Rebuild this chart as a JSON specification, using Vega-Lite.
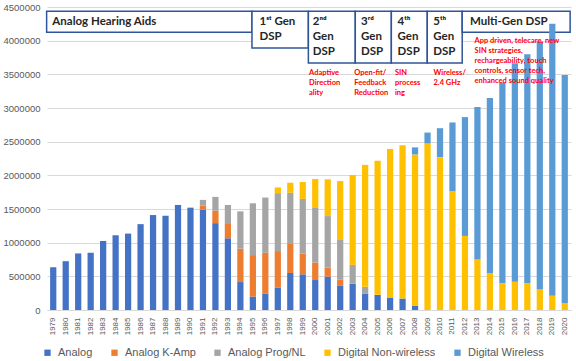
{
  "$schema": "https://vega.github.io/schema/vega-lite/v6.json",
  "width": 524,
  "height": 303,
  "autosize": {"type": "none"},
  "padding": {"left": 47, "top": 7, "right": 5, "bottom": 51},
  "background": "white",
  "config": {
    "view": {"stroke": null},
    "font": "Liberation Sans",
    "axisX": {"labelAngle": -90, "labelFontSize": 8, "labelColor": "#595959", "ticks": false, "domainColor": "#d9d9d9", "labelPadding": 7, "grid": false, "title": null, "labelOverlap": false},
    "axisY": {"domain": false, "ticks": false, "gridColor": "#d9d9d9", "labelColor": "#595959", "labelFontSize": 9.5, "labelPadding": 7, "title": null, "labelOverlap": false}
  },
  "datasets": {
    "sales": [
      {"year": 1979, "series": "Analog", "value": 635000},
      {"year": 1980, "series": "Analog", "value": 725000},
      {"year": 1981, "series": "Analog", "value": 840000},
      {"year": 1982, "series": "Analog", "value": 850000},
      {"year": 1983, "series": "Analog", "value": 1025000},
      {"year": 1984, "series": "Analog", "value": 1110000},
      {"year": 1985, "series": "Analog", "value": 1135000},
      {"year": 1986, "series": "Analog", "value": 1275000},
      {"year": 1987, "series": "Analog", "value": 1410000},
      {"year": 1988, "series": "Analog", "value": 1400000},
      {"year": 1989, "series": "Analog", "value": 1560000},
      {"year": 1990, "series": "Analog", "value": 1520000},
      {"year": 1991, "series": "Analog", "value": 1490000},
      {"year": 1991, "series": "Analog K-Amp", "value": 60000},
      {"year": 1991, "series": "Analog Prog/NL", "value": 85000},
      {"year": 1992, "series": "Analog", "value": 1290000},
      {"year": 1992, "series": "Analog K-Amp", "value": 185000},
      {"year": 1992, "series": "Analog Prog/NL", "value": 205000},
      {"year": 1993, "series": "Analog", "value": 1065000},
      {"year": 1993, "series": "Analog K-Amp", "value": 225000},
      {"year": 1993, "series": "Analog Prog/NL", "value": 270000},
      {"year": 1994, "series": "Analog", "value": 415000},
      {"year": 1994, "series": "Analog K-Amp", "value": 495000},
      {"year": 1994, "series": "Analog Prog/NL", "value": 555000},
      {"year": 1995, "series": "Analog", "value": 200000},
      {"year": 1995, "series": "Analog K-Amp", "value": 615000},
      {"year": 1995, "series": "Analog Prog/NL", "value": 770000},
      {"year": 1996, "series": "Analog", "value": 240000},
      {"year": 1996, "series": "Analog K-Amp", "value": 610000},
      {"year": 1996, "series": "Analog Prog/NL", "value": 820000},
      {"year": 1997, "series": "Analog", "value": 335000},
      {"year": 1997, "series": "Analog K-Amp", "value": 540000},
      {"year": 1997, "series": "Analog Prog/NL", "value": 860000},
      {"year": 1997, "series": "Digital Non-wireless", "value": 85000},
      {"year": 1998, "series": "Analog", "value": 550000},
      {"year": 1998, "series": "Analog K-Amp", "value": 430000},
      {"year": 1998, "series": "Analog Prog/NL", "value": 760000},
      {"year": 1998, "series": "Digital Non-wireless", "value": 150000},
      {"year": 1999, "series": "Analog", "value": 530000},
      {"year": 1999, "series": "Analog K-Amp", "value": 310000},
      {"year": 1999, "series": "Analog Prog/NL", "value": 810000},
      {"year": 1999, "series": "Digital Non-wireless", "value": 250000},
      {"year": 2000, "series": "Analog", "value": 445000},
      {"year": 2000, "series": "Analog K-Amp", "value": 260000},
      {"year": 2000, "series": "Analog Prog/NL", "value": 820000},
      {"year": 2000, "series": "Digital Non-wireless", "value": 420000},
      {"year": 2001, "series": "Analog", "value": 495000},
      {"year": 2001, "series": "Analog K-Amp", "value": 135000},
      {"year": 2001, "series": "Analog Prog/NL", "value": 765000},
      {"year": 2001, "series": "Digital Non-wireless", "value": 545000},
      {"year": 2002, "series": "Analog", "value": 365000},
      {"year": 2002, "series": "Analog K-Amp", "value": 90000},
      {"year": 2002, "series": "Analog Prog/NL", "value": 585000},
      {"year": 2002, "series": "Digital Non-wireless", "value": 875000},
      {"year": 2003, "series": "Analog", "value": 390000},
      {"year": 2003, "series": "Analog Prog/NL", "value": 280000},
      {"year": 2003, "series": "Digital Non-wireless", "value": 1335000},
      {"year": 2004, "series": "Analog", "value": 240000},
      {"year": 2004, "series": "Analog Prog/NL", "value": 105000},
      {"year": 2004, "series": "Digital Non-wireless", "value": 1810000},
      {"year": 2005, "series": "Analog", "value": 225000},
      {"year": 2005, "series": "Digital Non-wireless", "value": 1990000},
      {"year": 2006, "series": "Analog", "value": 185000},
      {"year": 2006, "series": "Digital Non-wireless", "value": 2205000},
      {"year": 2007, "series": "Analog", "value": 170000},
      {"year": 2007, "series": "Digital Non-wireless", "value": 2275000},
      {"year": 2008, "series": "Analog", "value": 65000},
      {"year": 2008, "series": "Digital Non-wireless", "value": 2245000},
      {"year": 2008, "series": "Digital Wireless", "value": 105000},
      {"year": 2009, "series": "Digital Non-wireless", "value": 2475000},
      {"year": 2009, "series": "Digital Wireless", "value": 160000},
      {"year": 2010, "series": "Digital Non-wireless", "value": 2270000},
      {"year": 2010, "series": "Digital Wireless", "value": 430000},
      {"year": 2011, "series": "Digital Non-wireless", "value": 1765000},
      {"year": 2011, "series": "Digital Wireless", "value": 1020000},
      {"year": 2012, "series": "Digital Non-wireless", "value": 1100000},
      {"year": 2012, "series": "Digital Wireless", "value": 1765000},
      {"year": 2013, "series": "Digital Non-wireless", "value": 750000},
      {"year": 2013, "series": "Digital Wireless", "value": 2265000},
      {"year": 2014, "series": "Digital Non-wireless", "value": 550000},
      {"year": 2014, "series": "Digital Wireless", "value": 2600000},
      {"year": 2015, "series": "Digital Non-wireless", "value": 400000},
      {"year": 2015, "series": "Digital Wireless", "value": 2980000},
      {"year": 2016, "series": "Digital Non-wireless", "value": 420000},
      {"year": 2016, "series": "Digital Wireless", "value": 3245000},
      {"year": 2017, "series": "Digital Non-wireless", "value": 400000},
      {"year": 2017, "series": "Digital Wireless", "value": 3400000},
      {"year": 2018, "series": "Digital Non-wireless", "value": 310000},
      {"year": 2018, "series": "Digital Wireless", "value": 3680000},
      {"year": 2019, "series": "Digital Non-wireless", "value": 210000},
      {"year": 2019, "series": "Digital Wireless", "value": 4040000},
      {"year": 2020, "series": "Digital Non-wireless", "value": 100000},
      {"year": 2020, "series": "Digital Wireless", "value": 3390000}
    ],
    "boxes": [
      {"x1": 1978.47, "x2": 1994.93, "y1": 4125000, "y2": 4436000},
      {"x1": 1994.93, "x2": 1999.45, "y1": 3892000, "y2": 4436000},
      {"x1": 1999.45, "x2": 2003.21, "y1": 3669000, "y2": 4436000},
      {"x1": 2003.21, "x2": 2006.1, "y1": 3669000, "y2": 4436000},
      {"x1": 2006.1, "x2": 2008.98, "y1": 3669000, "y2": 4436000},
      {"x1": 2008.98, "x2": 2011.78, "y1": 3669000, "y2": 4436000},
      {"x1": 2011.78, "x2": 2020.43, "y1": 4125000, "y2": 4436000}
    ],
    "labels": [
      {"x": 1978.93, "y": 4277000, "text": "Analog Hearing Aids"},
      {"x": 1995.53, "y": 4277000, "text": "1ˢᵗ Gen"},
      {"x": 1995.53, "y": 4055000, "text": "DSP"},
      {"x": 1999.8, "y": 4277000, "text": "2ⁿᵈ"},
      {"x": 1999.8, "y": 4055000, "text": "Gen"},
      {"x": 1999.8, "y": 3832000, "text": "DSP"},
      {"x": 2003.67, "y": 4277000, "text": "3ʳᵈ"},
      {"x": 2003.67, "y": 4055000, "text": "Gen"},
      {"x": 2003.67, "y": 3832000, "text": "DSP"},
      {"x": 2006.6, "y": 4277000, "text": "4ᵗʰ"},
      {"x": 2006.6, "y": 4055000, "text": "Gen"},
      {"x": 2006.6, "y": 3832000, "text": "DSP"},
      {"x": 2009.46, "y": 4277000, "text": "5ᵗʰ"},
      {"x": 2009.46, "y": 4055000, "text": "Gen"},
      {"x": 2009.46, "y": 3832000, "text": "DSP"},
      {"x": 2012.4, "y": 4277000, "text": "Multi-Gen DSP"}
    ],
    "notes": [
      {"x": 1999.5, "y": 3521000, "text": "Adaptive"},
      {"x": 1999.5, "y": 3372000, "text": "Direction"},
      {"x": 1999.5, "y": 3224000, "text": "ality"},
      {"x": 2003.13, "y": 3521000, "text": "Open-fit/"},
      {"x": 2003.13, "y": 3372000, "text": "Feedback"},
      {"x": 2003.13, "y": 3224000, "text": "Reduction"},
      {"x": 2006.39, "y": 3521000, "text": "SIN"},
      {"x": 2006.39, "y": 3372000, "text": "process"},
      {"x": 2006.39, "y": 3224000, "text": "ing"},
      {"x": 2009.48, "y": 3521000, "text": "Wireless/"},
      {"x": 2009.48, "y": 3372000, "text": "2.4 GHz"},
      {"x": 2012.77, "y": 3996000, "text": "App driven, telecare, new"},
      {"x": 2012.77, "y": 3847000, "text": "SIN strategies,"},
      {"x": 2012.77, "y": 3699000, "text": "rechargeability, touch"},
      {"x": 2012.77, "y": 3551000, "text": "controls, sensor tech,"},
      {"x": 2012.77, "y": 3402000, "text": "enhanced sound quality"}
    ]
  },
  "layer": [
    {
      "data": {"name": "boxes"},
      "mark": {"type": "rect", "fill": "white", "stroke": "#2F5597", "strokeWidth": 1.5},
      "encoding": {
        "x": {"field": "x1", "type": "quantitative", "scale": {"domain": [1978.5, 2020.5], "nice": false, "zero": false}, "axis": null},
        "x2": {"field": "x2"},
        "y": {"field": "y1", "type": "quantitative", "title": null, "scale": {"domain": [0, 4500000], "nice": false},
              "axis": {"values": [0, 500000, 1000000, 1500000, 2000000, 2500000, 3000000, 3500000, 4000000, 4500000], "format": "d", "title": null, "labelOverlap": false}},
        "y2": {"field": "y2"}
      }
    },
    {
      "data": {"name": "sales"},
      "mark": {"type": "bar"},
      "encoding": {
        "x": {"field": "year", "type": "ordinal", "scale": {"paddingInner": 0.5, "paddingOuter": 0.25}, "axis": {"title": null}},
        "y": {"field": "value", "type": "quantitative", "stack": "zero", "title": null,
              "scale": {"domain": [0, 4500000], "nice": false},
              "axis": {"values": [0, 500000, 1000000, 1500000, 2000000, 2500000, 3000000, 3500000, 4000000, 4500000], "format": "d", "title": null, "labelOverlap": false}},
        "order": {"field": "series", "sort": "ascending"},
        "color": {
          "field": "series", "type": "nominal",
          "scale": {"domain": ["Analog", "Analog K-Amp", "Analog Prog/NL", "Digital Non-wireless", "Digital Wireless"],
                    "range": ["#4472C4", "#ED7D31", "#A5A5A5", "#FFC000", "#5B9BD5"]},
          "legend": {"orient": "none", "legendX": -5, "legendY": 340, "direction": "horizontal", "title": null,
                     "symbolType": "square", "symbolSize": 40, "symbolStrokeWidth": 0, "labelFontSize": 11,
                     "labelColor": "#595959", "columnPadding": 16, "labelOffset": 5}
        }
      }
    },
    {
      "data": {"name": "labels"},
      "mark": {"type": "text", "align": "left", "baseline": "middle", "font": "Lato", "fontWeight": "bold", "fontSize": 11.5, "color": "#262626"},
      "encoding": {
        "x": {"field": "x", "type": "quantitative", "scale": {"domain": [1978.5, 2020.5], "nice": false, "zero": false}, "axis": null},
        "y": {"field": "y", "type": "quantitative", "title": null, "scale": {"domain": [0, 4500000], "nice": false},
              "axis": {"values": [0, 500000, 1000000, 1500000, 2000000, 2500000, 3000000, 3500000, 4000000, 4500000], "format": "d", "title": null, "labelOverlap": false}},
        "text": {"field": "text"}
      }
    },
    {
      "data": {"name": "notes"},
      "mark": {"type": "text", "align": "left", "baseline": "middle", "font": "Lato", "fontWeight": "bold", "fontSize": 7.5, "color": "#FF0000"},
      "encoding": {
        "x": {"field": "x", "type": "quantitative", "scale": {"domain": [1978.5, 2020.5], "nice": false, "zero": false}, "axis": null},
        "y": {"field": "y", "type": "quantitative", "title": null, "scale": {"domain": [0, 4500000], "nice": false},
              "axis": {"values": [0, 500000, 1000000, 1500000, 2000000, 2500000, 3000000, 3500000, 4000000, 4500000], "format": "d", "title": null, "labelOverlap": false}},
        "text": {"field": "text"}
      }
    }
  ],
  "resolve": {"scale": {"x": "independent"}}
}
